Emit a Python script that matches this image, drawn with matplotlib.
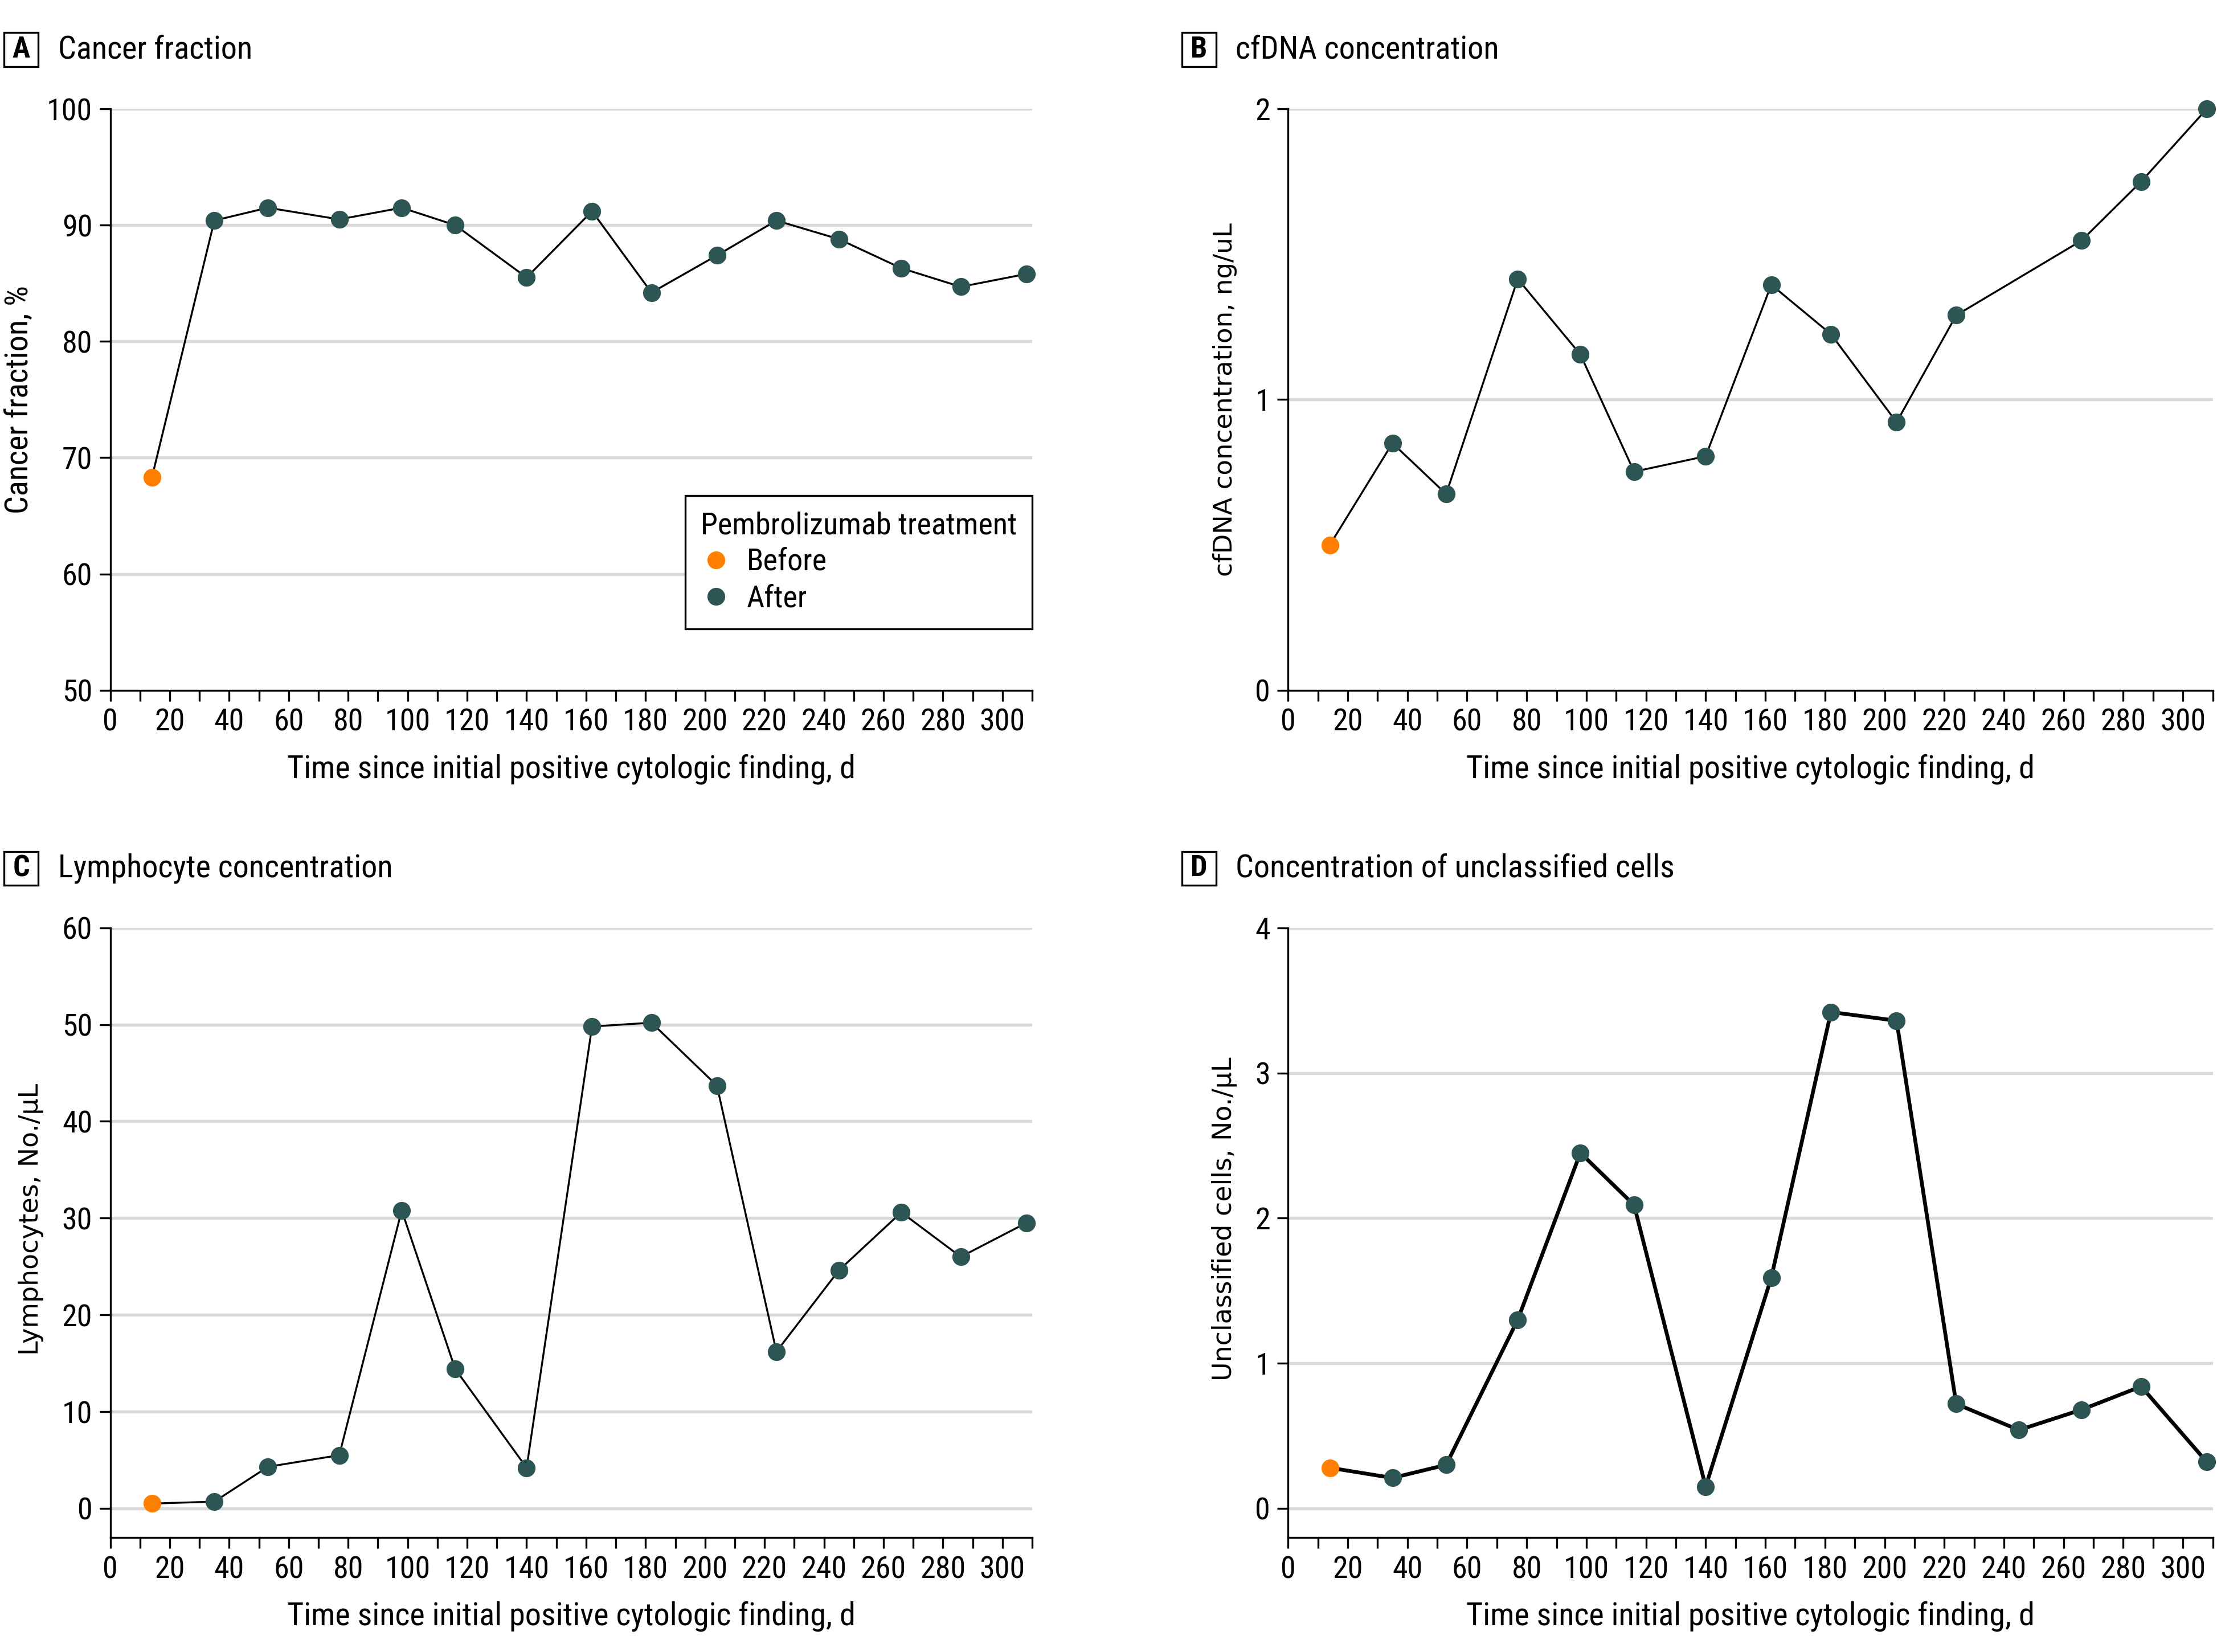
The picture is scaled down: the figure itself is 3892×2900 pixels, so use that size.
import matplotlib
matplotlib.use("Agg")
import matplotlib.pyplot as plt
from matplotlib import font_manager
from matplotlib.ticker import MultipleLocator
from matplotlib.lines import Line2D
from matplotlib.patches import Rectangle

# data
days = [14, 35, 53, 77, 98, 116, 140, 162, 182, 204, 224, 245, 266, 286, 308]
days_cfdna = [14, 35, 53, 77, 98, 116, 140, 162, 182, 204, 224, 266, 286, 308]

cancer_fraction = [68.3, 90.4, 91.5, 90.5, 91.5, 90.0, 85.5, 91.2, 84.2, 87.4, 90.4, 88.8, 86.3, 84.7, 85.8]
cfdna = [0.50, 0.85, 0.675, 1.415, 1.155, 0.752, 0.805, 1.395, 1.225, 0.922, 1.29, 1.547, 1.75, 2.0]
lymphocytes = [0.5, 0.7, 4.3, 5.5, 30.8, 14.4, 4.2, 49.8, 50.2, 43.7, 16.2, 24.6, 30.6, 26.0, 29.5]
unclassified = [0.28, 0.21, 0.30, 1.30, 2.45, 2.09, 0.15, 1.59, 3.42, 3.36, 0.72, 0.54, 0.68, 0.84, 0.32]

titles = ["Cancer fraction", "cfDNA concentration", "Lymphocyte concentration",
          "Concentration of unclassified cells"]
letters = ["A", "B", "C", "D"]
ylabels = ["Cancer fraction, %", "cfDNA concentration, ng/uL", "Lymphocytes, No./\u03bcL",
           "Unclassified cells, No./\u03bcL"]
xlabel = "Time since initial positive cytologic finding, d"

ORANGE = "#FF8000"
TEAL = "#2C5554"
GRID = "#D9D9D9"

names = {f.name for f in font_manager.fontManager.ttflist}
narrow = "DejaVu Sans"
for cand in ["Liberation Sans Narrow", "DejaVu Sans Condensed", "Roboto Condensed"]:
    if cand in names:
        narrow = cand
        break
plt.rcParams["font.family"] = [narrow, "DejaVu Sans"]

W, H = 1568.0, 1168.0
fig = plt.figure(figsize=(3892 / 300, 2900 / 300), dpi=300)


def fx(px):
    return px / W


def fy(py):
    return 1 - py / H


# axes boxes [left, right, top, bottom] in shrunk-pixel units
boxes = [(78, 730, 77, 488), (911, 1565, 77, 488), (78, 730, 656, 1087), (911, 1565, 656, 1087)]
axes = []
for (l, r, t, b) in boxes:
    ax = fig.add_axes([fx(l), fy(b), fx(r) - fx(l), fy(t) - fy(b)])
    axes.append(ax)

series = [(days, cancer_fraction), (days_cfdna, cfdna), (days, lymphocytes), (days, unclassified)]
ylims = [(50, 100), (0, 2), (-3, 60), (-0.2, 4)]
ysteps = [10, 1, 10, 1]
linewidths = [0.8, 0.8, 0.8, 1.6]
ylabel_x = [-0.099, -0.068, -0.086, -0.069]
ylabel_fonts = [narrow, "DejaVu Sans", "DejaVu Sans", "DejaVu Sans"]
ylabel_sizes = [13.5, 10.8, 11, 11]

for i, ax in enumerate(axes):
    x, y = series[i]
    ax.plot(x, y, color="black", lw=linewidths[i], zorder=3, clip_on=False)
    ax.plot(x[:1], y[:1], "o", color=ORANGE, ms=7.5, mec="none", zorder=4, clip_on=False)
    ax.plot(x[1:], y[1:], "o", color=TEAL, ms=7.5, mec="none", zorder=4, clip_on=False)

    ax.set_xlim(0, 310)
    ax.set_ylim(*ylims[i])
    ax.xaxis.set_major_locator(MultipleLocator(20))
    ax.xaxis.set_minor_locator(MultipleLocator(10))
    ax.yaxis.set_major_locator(MultipleLocator(ysteps[i]))

    lo = ylims[i][0]
    for v in ax.get_yticks():
        if v > lo and v <= ylims[i][1] + 1e-9:
            ax.axhline(v, color=GRID, lw=1.3, zorder=1)

    for s in ["top", "right"]:
        ax.spines[s].set_visible(False)
    for s in ["left", "bottom"]:
        ax.spines[s].set_linewidth(0.8)
    ax.spines["left"].set_bounds(lo, ylims[i][1])
    ax.tick_params(which="both", direction="out", length=4.5, width=0.8, labelsize=13, pad=3)

    ax.set_xlabel(xlabel, fontsize=13.5, labelpad=7)
    ax.set_ylabel(ylabels[i], fontsize=ylabel_sizes[i], family=[ylabel_fonts[i], "DejaVu Sans"], va="center")
    yc = 0.5
    if i >= 2:
        yc = 0.522
    ax.yaxis.set_label_coords(ylabel_x[i], yc)

# panel letters and titles
letter_pos = [(3, 23), (836, 23), (3, 602), (836, 602)]
for i, (lx, ly) in enumerate(letter_pos):
    fig.patches.append(Rectangle((fx(lx), fy(ly + 24)), 24 / W, 24 / H, transform=fig.transFigure,
                                 fc="white", ec="black", lw=0.8))
    fig.text(fx(lx + 12), fy(ly + 12), letters[i], ha="center", va="center", fontsize=12.5, fontweight="bold")
    fig.text(fx(lx + 38), fy(ly + 12), titles[i], ha="left", va="center", fontsize=13.5)

handles = [Line2D([], [], ls="none", marker="o", color=ORANGE, ms=7.5, mec="none"),
           Line2D([], [], ls="none", marker="o", color=TEAL, ms=7.5, mec="none")]
leg = axes[0].legend(handles, ["Before", "After"], title="Pembrolizumab treatment", loc="lower right",
                     bbox_to_anchor=(1.0, 0.105), borderaxespad=0, fancybox=False, framealpha=1,
                     edgecolor="black", fontsize=13, title_fontsize=13, handletextpad=0.5,
                     labelspacing=0.25, borderpad=0.5, handlelength=1.0, alignment="left")
leg.get_frame().set_linewidth(0.8)
leg.set_zorder(10)

fig.savefig("out.png", dpi=300)
